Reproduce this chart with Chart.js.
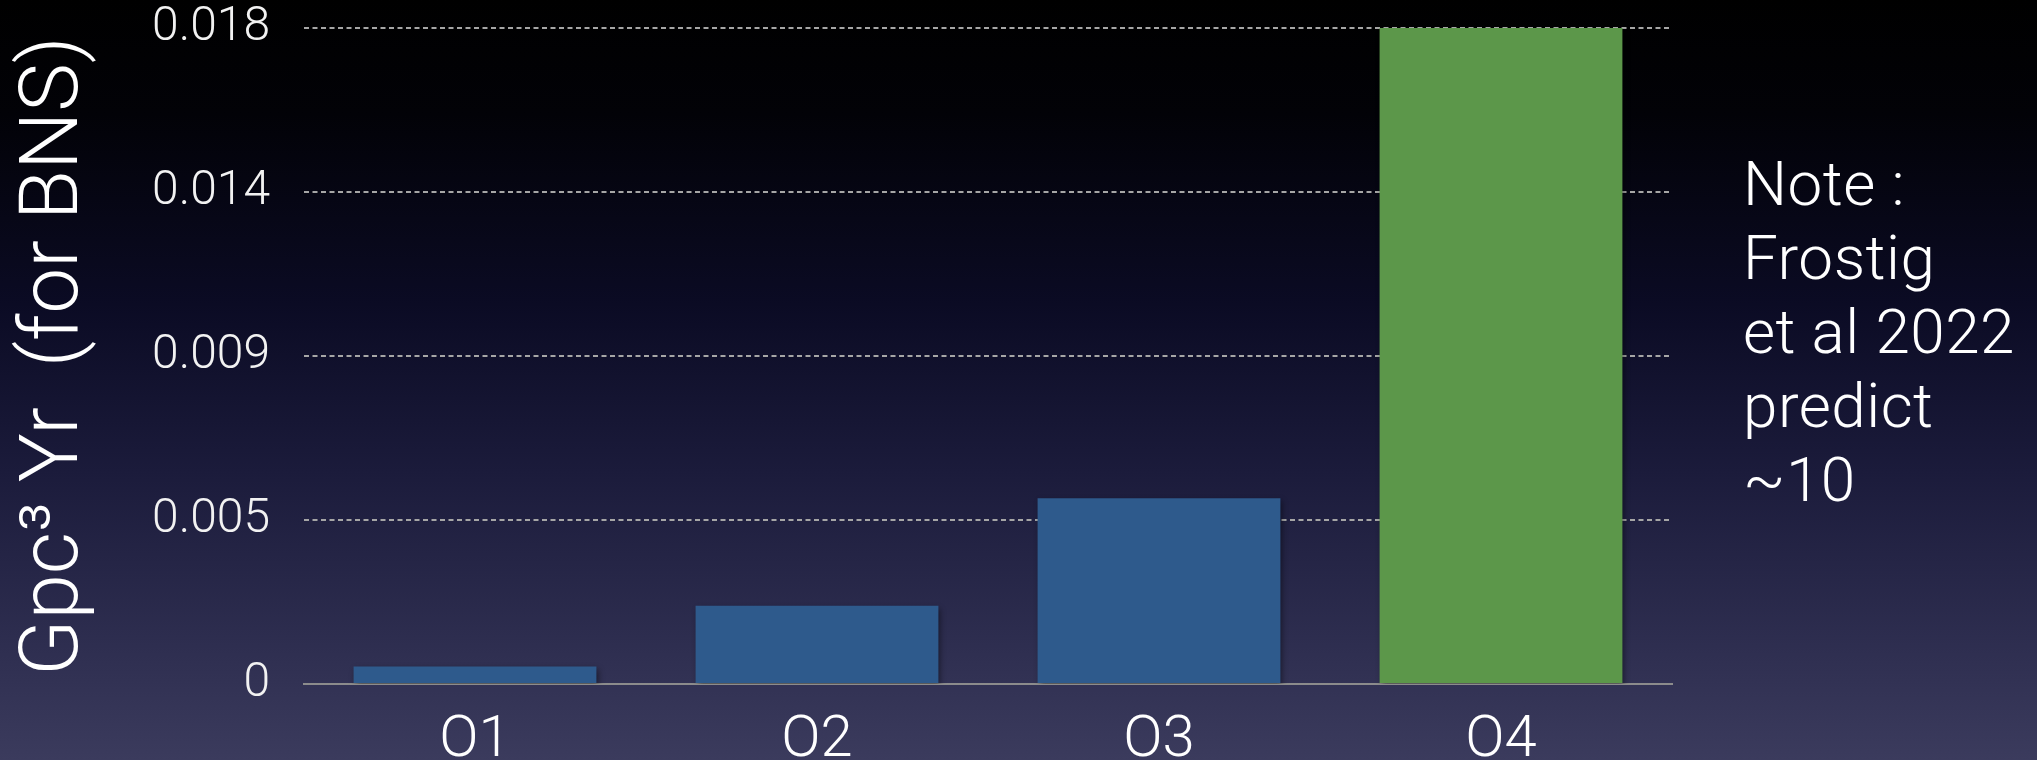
<!DOCTYPE html>
<html lang="en">

<head>
  <meta charset="UTF-8">
  <title>BNS rate by observing run</title>
  <script src="https://cdn.jsdelivr.net/npm/chart.js"></script>
  <style>
    html, body {
      margin: 0;
      padding: 0;
      overflow: hidden;
    }

    #wrap {
      position: relative;
      width: 2037px;
      height: 760px;
      background: linear-gradient(to bottom, #000000 0%, #020207 15%, #0b0b24 40%, #1b1b3b 62%, #2e2e50 85%, #3b3b5d 100%);
    }

    #note {
      position: absolute;
      left: 1743px;
      top: 147px;
      color: #ffffff;
      font-family: Roboto, "Liberation Sans", sans-serif;
      font-weight: 300;
      font-size: 62px;
      line-height: 74px;
      letter-spacing: 0.5px;
      white-space: pre;
    }
  </style>
</head>

<body>
  <div id="wrap">
    <canvas id="myChart"></canvas>
    <div id="note"></div>
  </div>

  <script>
    // Datos del gráfico
    const categories = ['O1', 'O2', 'O3', 'O4'];
    const rates = [0.00048, 0.00215, 0.0051, 0.018];
    const barColors = ['#2e5a8c', '#2e5a8c', '#2e5a8c', '#5c974a'];
    const yTickValues = [0, 0.0045, 0.009, 0.0135, 0.018];
    const yTickLabels = ['0', '0.005', '0.009', '0.014', '0.018'];
    const yTitle = 'Gpc³ Yr  (for BNS)';
    const noteLines = ['Note :', 'Frostig', 'et al 2022', 'predict', '~10'];

    document.getElementById('note').textContent = noteLines.join('\n');

    const fontFamily = 'Roboto, "Liberation Sans", sans-serif';

    // Sombra suave detrás de las barras
    const barShadow = {
      id: 'barShadow',
      beforeDatasetsDraw(chart) {
        const ctx = chart.ctx;
        ctx.save();
        ctx.shadowColor = 'rgba(0, 0, 0, 0.45)';
        ctx.shadowBlur = 6;
        ctx.shadowOffsetX = 2;
        ctx.shadowOffsetY = 3;
      },
      afterDatasetsDraw(chart) {
        chart.ctx.restore();
      }
    };

    const ctx = document.getElementById('myChart').getContext('2d');
    new Chart(ctx, {
      type: 'bar',
      data: {
        labels: categories,
        datasets: [{
          data: rates,
          backgroundColor: barColors,
          borderWidth: 0,
          barPercentage: 0.71,
          categoryPercentage: 1.0
        }]
      },
      options: {
        responsive: true,
        maintainAspectRatio: false,
        animation: false,
        layout: {
          padding: { left: 0, right: 365, top: 0, bottom: 0 }
        },
        plugins: {
          legend: { display: false },
          tooltip: { enabled: false }
        },
        scales: {
          x: {
            grid: { display: false, drawTicks: false },
            border: { display: true, color: '#8c8c8c', width: 2 },
            ticks: {
              color: '#ffffff',
              padding: 28,
              font: { family: fontFamily, size: 58, weight: '300', lineHeight: 1.0 }
            },
            afterFit(scale) {
              scale.height = 76;
            }
          },
          y: {
            min: 0,
            max: 0.018,
            afterBuildTicks(scale) {
              scale.ticks = yTickValues.map(v => ({ value: v }));
            },
            grid: {
              drawTicks: false,
              lineWidth: 2,
              color: (c) => (c.tick && c.tick.value === 0) ? 'rgba(0,0,0,0)' : '#a6a6a6'
            },
            border: { display: false, dash: [5, 3.5] },
            ticks: {
              color: '#f2f2f2',
              padding: 34,
              font: { family: fontFamily, size: 48, weight: '300' },
              callback: (value, index) => yTickLabels[index]
            },
            title: {
              display: true,
              text: yTitle,
              color: '#ffffff',
              padding: { top: 15, bottom: 0 },
              font: { family: fontFamily, size: 82, weight: '300', lineHeight: 1.0 }
            },
            afterFit(scale) {
              // ancho fijo y sin margen extra arriba/abajo por las etiquetas
              scale.width = 304;
              scale.paddingTop = 28;
              scale.paddingBottom = 0;
            }
          }
        }
      },
      plugins: [barShadow]
    });
  </script>
</body>

</html>
